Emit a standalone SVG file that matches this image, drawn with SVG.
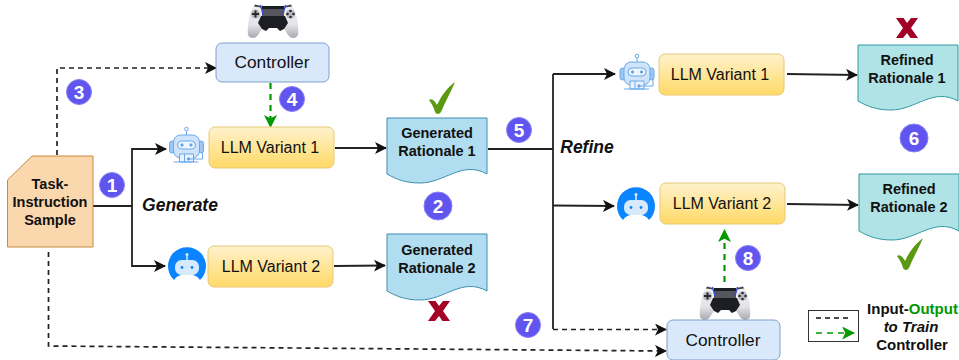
<svg xmlns="http://www.w3.org/2000/svg" xmlns:xlink="http://www.w3.org/1999/xlink" width="959" height="360" viewBox="0 0 959 360">
<defs>
<linearGradient id="yl" x1="0" y1="0" x2="0" y2="1"><stop offset="0" stop-color="#fff2cc"/><stop offset="1" stop-color="#ffd966"/></linearGradient>
<linearGradient id="pb" x1="0" y1="0" x2="0" y2="1"><stop offset="0" stop-color="#f2f2f5"/><stop offset="0.6" stop-color="#e4e4e8"/><stop offset="1" stop-color="#a8a8ae"/></linearGradient>
<marker id="ab" viewBox="0 0 12 12" refX="11" refY="6" markerWidth="12" markerHeight="12" markerUnits="userSpaceOnUse" orient="auto"><path d="M0,0L12,6L0,12L3,6Z" fill="#111"/></marker>
<marker id="ag" viewBox="0 0 12 12" refX="11" refY="6" markerWidth="13" markerHeight="13" markerUnits="userSpaceOnUse" orient="auto"><path d="M0,0L12,6L0,12L3,6Z" fill="#009900"/></marker>
<g id="pad">
<path d="M-19,-16C-13,-17 -9,-15 -5,-15L5,-15C9,-15 13,-17 19,-16C24,-9 26,6 25,14C23,18 18,18 15,14L10,6L-10,6L-15,14C-18,18 -23,18 -25,14C-26,6 -24,-9 -19,-16Z" fill="url(#pb)"/>
<path d="M-18,-16.500L-12,-15L-12,-13.500L-19,-14.500ZM18,-16.500L12,-15L12,-13.500L19,-14.500Z" fill="#44454c"/>
<path d="M-11,-15H11L11,-12H-11ZM-12,-5H12L15,2L11,8L7,10L4,7H-4L-7,10L-11,8L-15,2Z" fill="#1d1e24"/>
<path d="M-11,-12H11V-5H-11Z" fill="#55565e"/>
<path d="M-12.500,-16L-10,-7M12.500,-16L10,-7" stroke="#2f48d8" stroke-width="1.300"/>
<circle cx="-17.500" cy="-7" r="4.600" fill="#b9bac0"/><circle cx="17.500" cy="-7" r="4.600" fill="#b9bac0"/>
<path d="M-21,-7H-14M-17.500,-10.500V-3.500" stroke="#2a2a2e" stroke-width="2"/>
<circle cx="17.500" cy="-10" r="1.300" fill="#2a2a2e"/><circle cx="17.500" cy="-4" r="1.300" fill="#2a2a2e"/><circle cx="14.500" cy="-7" r="1.300" fill="#2a2a2e"/><circle cx="20.500" cy="-7" r="1.300" fill="#2a2a2e"/>
</g>
<g id="bot1" fill="#cfe3fa" stroke="#6aa9ea" stroke-width="1">
<circle cx="0" cy="-18" r="1.800" fill="none"/><path d="M0,-16V-12" fill="none"/>
<rect x="-17" y="-6" width="5" height="12" rx="2.500" fill="#9cc7f5"/><rect x="12" y="-6" width="5" height="12" rx="2.500" fill="#9cc7f5"/>
<rect x="-13" y="-12" width="26" height="23" rx="7"/>
<rect x="-9" y="-6" width="18" height="8" rx="4" fill="#eef6ff"/>
<circle cx="-4.500" cy="-2" r="1.200" fill="#5a9de6"/><circle cx="4.500" cy="-2" r="1.200" fill="#5a9de6"/>
<path d="M-7,15V7H7V15ZM-2,7V15" fill="#eaf3fd"/>
<path d="M16,5V12H2" fill="none"/><circle cx="2" cy="12" r="1.200" fill="#5a9de6"/>
<path d="M-13,15H12" fill="none"/>
</g>
<g id="bot2">
<path d="M-13,15A19,19 0 1 1 13,15L11,12.500A17,14 0 0 0 -11,12.500Z" fill="#0a84ff"/>
<rect x="-12" y="-5" width="24" height="15" rx="6.500" fill="#d7e9fd"/>
<circle cx="-5" cy="2.500" r="1.400" fill="#0a84ff"/><circle cx="5" cy="2.500" r="1.400" fill="#0a84ff"/>
<path d="M0,-5V-10" stroke="#dcecff" stroke-width="1.500"/><circle cx="0" cy="-10.500" r="1.500" fill="#dcecff"/>
</g>
<path id="chk" d="M-12,2C-9,0 -6,3 -4,7C0,-2 6,-10 14,-16C10,-6 4,4 0,14C-2,17 -5,16 -6,14C-7,10 -9,6 -12,2Z" fill="#5a9a12"/>
<path id="xx" d="M-11,-10H-3.500L0,-5L4,-10H11L4,0L11,10H3.500L0,5L-4,10H-11L-4,0Z" fill="#a20025"/>
</defs>
<style>
text{font-family:"Liberation Sans",Arial,sans-serif;text-anchor:middle;fill:#111}
.n{font-size:16px}
.ct{font-size:17.300px}
.b{font-size:14.500px;font-weight:bold}
.i{font-size:17.500px;font-weight:bold;font-style:italic}
.l{fill:none;stroke:#222;stroke-width:1.800}
.d{fill:none;stroke:#222;stroke-width:1.700;stroke-dasharray:5 4}
.g{fill:none;stroke:#009900;stroke-width:2.200;stroke-dasharray:6 5}
.y{fill:url(#yl);stroke:#e6c877;stroke-width:1}
.c{fill:#dae8fc;stroke:#7f9fcf;stroke-width:1}
.dg{fill:#b1ddf0;stroke:#3f8fb0;stroke-width:1}
.dr{fill:#b0e3e6;stroke:#2f9aa0;stroke-width:1}
.o{fill:#6055ee;stroke:#8a80f5;stroke-width:1}
.t{fill:#fff;font-size:19px;font-weight:bold}
</style>

<g id="connectors">
<path class="d" d="M57,155V68H216" marker-end="url(#ab)"/>
<path class="d" d="M48.500,252V346L666,351" marker-end="url(#ab)"/>
<path class="l" d="M93,206H132"/>
<path class="l" d="M132,206V149H166" marker-end="url(#ab)"/>
<path class="l" d="M132,206V266H165" marker-end="url(#ab)"/>
<path class="g" d="M270.500,83V127" marker-end="url(#ag)"/>
<path class="l" d="M335,148L386,148" marker-end="url(#ab)"/>
<path class="l" d="M334,266L385,265.500" marker-end="url(#ab)"/>
<path class="l" d="M488,149H553"/>
<path class="l" d="M553,74V329"/>
<path class="l" d="M553,74H615" marker-end="url(#ab)"/>
<path class="l" d="M553,205.500L614,206" marker-end="url(#ab)"/>
<path class="d" d="M553,329.500H666" marker-end="url(#ab)"/>
<path class="l" d="M787,74L857,75" marker-end="url(#ab)"/>
<path class="l" d="M787,204L858,205" marker-end="url(#ab)"/>
<path class="g" d="M724.500,282V230" marker-end="url(#ag)"/>
</g>

<g id="task-sample">
<path d="M32,156H93V247H7.500V180Z" fill="#fad7ac" stroke="#c98a3c" stroke-width="1"/>
<text class="b"><tspan x="50" y="189">Task-</tspan><tspan x="50" y="207">Instruction</tspan><tspan x="50" y="225">Sample</tspan></text>
</g>

<g id="controller-1">
<use xlink:href="#pad" href="#pad" x="273" y="21"/>
<rect class="c" x="216" y="43" width="113" height="39" rx="6"/>
<text class="ct" x="272" y="68">Controller</text>
</g>
<g id="llm-1a">
<use xlink:href="#bot1" href="#bot1" x="186.500" y="147"/>
<rect class="y" x="209" y="127" width="125" height="41" rx="6"/>
<text class="n" x="270" y="153">LLM Variant 1</text>
</g>
<g id="llm-2a">
<use xlink:href="#bot2" href="#bot2" x="187" y="265"/>
<rect class="y" x="208" y="246" width="125" height="41" rx="6"/>
<text class="n" x="271" y="272">LLM Variant 2</text>
</g>
<g id="generated-1">
<path class="dg" d="M387,118H487V174C462,160 445,183 420,183C405,183 396,179 387,174Z"/>
<text class="b"><tspan x="437" y="138">Generated</tspan><tspan x="437" y="156">Rationale 1</tspan></text>
<use xlink:href="#chk" href="#chk" x="441" y="98"/>
</g>
<g id="generated-2">
<path class="dg" d="M387,234H487V291C462,277 445,300 420,300C405,300 396,296 387,291Z"/>
<text class="b"><tspan x="437" y="255">Generated</tspan><tspan x="437" y="273">Rationale 2</tspan></text>
<use xlink:href="#xx" href="#xx" x="439" y="311"/>
</g>
<g id="llm-1b">
<use xlink:href="#bot1" href="#bot1" x="637" y="74"/>
<rect class="y" x="659" y="54" width="125" height="41" rx="6"/>
<text class="n" x="720" y="80">LLM Variant 1</text>
</g>
<g id="llm-2b">
<use xlink:href="#bot2" href="#bot2" x="636" y="205"/>
<rect class="y" x="660" y="183" width="125" height="41" rx="6"/>
<text class="n" x="722" y="209">LLM Variant 2</text>
</g>
<g id="refined-1">
<path class="dr" d="M858,45H958V101C933,87 916,110 891,110C876,110 867,106 858,101Z"/>
<text class="b"><tspan x="907" y="65">Refined</tspan><tspan x="907" y="83">Rationale 1</tspan></text>
<use xlink:href="#xx" href="#xx" x="907" y="28"/>
</g>
<g id="refined-2">
<path class="dr" d="M859,174H959V231C934,217 917,240 892,240C877,240 868,236 859,231Z"/>
<text class="b"><tspan x="909" y="194">Refined</tspan><tspan x="909" y="212">Rationale 2</tspan></text>
<use xlink:href="#chk" href="#chk" x="909" y="254"/>
</g>
<g id="controller-2">
<use xlink:href="#pad" href="#pad" x="725" y="303"/>
<rect class="c" x="667" y="320" width="113" height="40" rx="6"/>
<text class="ct" x="723" y="346">Controller</text>
</g>

<g id="labels">
<text class="i" x="180" y="211">Generate</text>
<text class="i" x="587" y="153">Refine</text>
</g>

<g id="badges">
<circle class="o" cx="112" cy="185" r="12.500"/><text class="t" x="112" y="192">1</text>
<circle class="o" cx="438" cy="206" r="14"/><text class="t" x="438" y="213">2</text>
<circle class="o" cx="79" cy="92" r="12.500"/><text class="t" x="79" y="99">3</text>
<circle class="o" cx="292" cy="99" r="12.500"/><text class="t" x="292" y="106">4</text>
<circle class="o" cx="519" cy="130" r="12.500"/><text class="t" x="519" y="137">5</text>
<circle class="o" cx="914" cy="138" r="14"/><text class="t" x="914" y="145">6</text>
<circle class="o" cx="528" cy="325" r="12.500"/><text class="t" x="528" y="332">7</text>
<circle class="o" cx="748" cy="258" r="12.500"/><text class="t" x="748" y="265">8</text>
</g>

<g id="legend">
<rect x="808.500" y="310.500" width="50" height="31" fill="#fff" stroke="#333" stroke-width="1"/>
<path d="M816,318H852" fill="none" stroke="#111" stroke-width="1.500" stroke-dasharray="5 4"/>
<path d="M816,333H854" class="g" style="stroke-width:1.600" marker-end="url(#ag)"/>
<text class="b" x="912.500" y="314" style="font-size:15px">Input-<tspan fill="#009900">Output</tspan></text>
<text class="b" x="911" y="332" style="font-size:15px;font-style:italic">to Train</text>
<text class="b" x="912" y="350" style="font-size:15px">Controller</text>
</g>
</svg>
